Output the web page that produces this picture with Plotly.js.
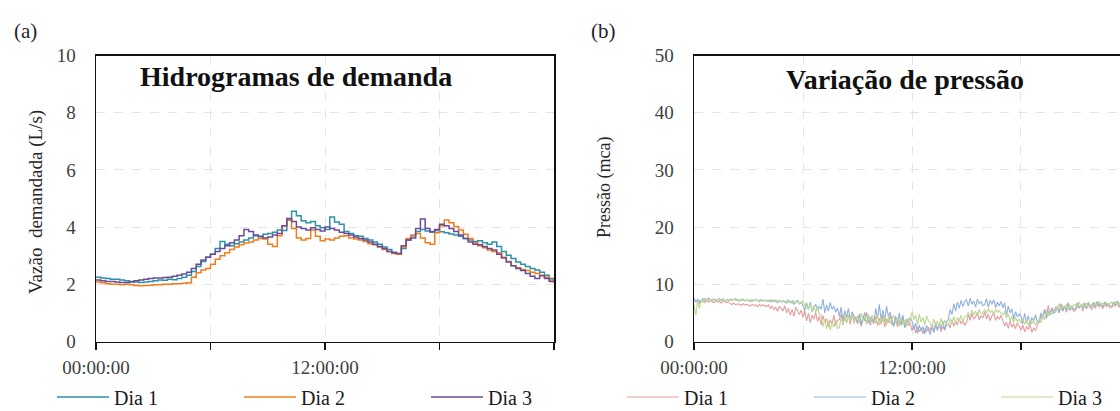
<!DOCTYPE html>
<html>
<head>
<meta charset="utf-8">
<script src="https://cdn.plot.ly/plotly-3.0.1.min.js"></script>
<style>html,body{margin:0;padding:0;background:#fff;}#chart{width:1120px;height:411px;}</style>
</head>
<body>
<div id="chart"></div>
<script>
// ---------- Data: panel (a) demand hydrographs, 15-min steps (L/s) ----------
const stepA = 0.25; // hours between samples
const demandaDia1 = [
  2.25,2.22,2.20,2.18, 2.18,2.15,2.12,2.10, 2.08,2.06,2.08,2.10, 2.12,2.15,2.14,2.18,
  2.16,2.20,2.25,2.32, 2.45,2.62,2.80,2.95, 3.05,3.25,3.50,3.40, 3.35,3.42,3.48,3.55,
  3.62,3.70,3.66,3.75, 3.78,3.82,3.90,3.88, 4.25,4.55,4.40,4.22, 4.15,4.20,4.05,3.98,
  3.92,4.35,4.18,4.10, 3.85,3.78,3.70,3.68, 3.60,3.55,3.48,3.40, 3.30,3.22,3.12,3.05,
  3.25,3.55,3.70,3.85, 3.92,3.86,3.82,3.88, 3.84,3.80,3.76,3.72, 3.68,3.60,3.55,3.50,
  3.52,3.45,3.40,3.48, 3.32,3.15,3.02,2.90, 2.78,2.70,2.62,2.55, 2.50,2.42,2.32,2.20, 2.10];
const demandaDia2 = [
  2.08,2.05,2.02,2.00, 2.00,1.98,2.00,1.98, 1.96,1.95,1.96,1.97, 1.98,1.98,2.00,2.00,
  2.02,2.02,2.04,2.05, 2.25,2.40,2.50,2.55, 2.70,2.88,3.00,3.10, 3.22,3.30,3.38,3.44,
  3.48,3.55,3.60,3.58, 3.40,3.32,3.70,4.05, 4.25,3.95,3.62,3.55, 3.60,3.90,3.68,3.52,
  3.58,3.55,3.62,3.68, 3.70,3.62,3.58,3.55, 3.50,3.42,3.38,3.30, 3.22,3.15,3.08,3.05,
  3.30,3.60,3.72,3.78, 3.62,3.45,3.40,3.80, 4.05,4.25,4.15,4.02, 3.90,3.75,3.60,3.45,
  3.35,3.28,3.20,3.15, 3.10,2.95,2.80,2.65, 2.58,2.52,2.48,2.42, 2.38,2.32,2.25,2.15, 2.10];
const demandaDia3 = [
  2.15,2.12,2.10,2.10, 2.08,2.06,2.06,2.08, 2.12,2.15,2.18,2.20, 2.22,2.22,2.24,2.25,
  2.28,2.32,2.36,2.42, 2.55,2.70,2.85,2.95, 3.05,3.15,3.25,3.35, 3.45,3.55,3.70,3.92,
  3.85,3.72,3.68,3.62, 3.65,3.72,3.78,4.05, 4.30,4.20,4.00,3.95, 3.90,3.98,3.92,3.86,
  4.00,3.95,3.90,3.82, 3.78,3.72,3.65,3.60, 3.55,3.48,3.40,3.32, 3.25,3.15,3.10,3.08,
  3.35,3.55,3.62,3.95, 4.28,3.95,3.85,3.92, 4.10,4.05,3.95,3.85, 3.72,3.60,3.48,3.40,
  3.38,3.32,3.25,3.20, 3.05,2.92,2.78,2.65, 2.55,2.48,2.38,2.28, 2.20,2.30,2.20,2.10, 2.05];

// ---------- Data: panel (b) pressure, 6-min steps (mca) ----------
const stepB = 0.1; // hours between samples
const pressaoDia1 = [
  7.3,6.9,7.1,6.7,7.2,7.0,6.8,7.2,6.9,7.1, 7.0,6.8,7.2,6.9,7.0,6.7,7.1,6.9,6.8,7.0,
  6.6,6.5,6.7,6.4,6.6,6.5,6.3,6.6,6.4,6.5, 6.4,6.2,6.5,6.3,6.4,6.1,6.5,6.2,6.4,6.3,
  6.1,6.4,5.8,6.2,5.6,6.0,5.3,6.1,5.7,5.4, 6.2,5.0,5.8,4.6,5.6,4.4,6.0,5.2,4.7,5.5,
  4.2,5.3,3.6,4.9,3.3,4.6,3.9,5.0,3.5,4.4, 2.9,4.5,3.4,4.0,2.6,3.8,3.1,4.6,2.8,3.7,
  3.8,4.8,2.9,4.2,3.3,4.6,3.0,4.9,3.6,4.3, 3.1,4.4,2.6,3.9,5.1,3.2,4.5,2.8,4.0,3.4,
  4.4,2.8,4.1,3.0,4.7,2.5,3.9,3.3,4.6,3.0, 3.0,4.2,2.6,3.7,2.9,4.3,2.5,3.5,2.8,3.3,
  1.9,2.8,1.5,2.6,1.7,2.4,1.4,2.2,1.8,2.5, 1.8,3.0,1.6,2.8,2.1,3.2,1.7,2.6,2.0,2.9,
  3.1,2.4,3.8,2.7,3.5,2.9,4.0,3.1,3.6,2.8, 3.4,4.6,3.7,4.9,3.9,4.3,5.1,3.8,4.5,4.1,
  5.2,3.9,4.8,3.6,4.5,5.0,3.7,4.4,3.9,4.6, 3.8,2.7,3.4,2.3,3.6,2.5,3.1,2.2,3.3,2.6,
  2.0,2.9,1.7,2.6,2.1,3.0,1.6,2.4,1.9,2.8, 3.4,4.6,3.9,5.6,4.3,6.3,4.8,5.9,5.1,6.0,
  6.1,5.0,6.6,5.4,6.2,5.1,6.8,5.6,6.0,5.3, 5.5,6.8,5.9,6.4,5.3,6.6,5.7,6.9,6.0,5.6,
  6.6,5.8,6.9,6.0,6.5,5.7,6.8,6.1,6.4,5.9, 5.9,6.7,6.2,6.8,6.0,6.6,6.3,6.9,6.1,6.5, 6.5];
const pressaoDia2 = [
  7.6,6.9,7.4,7.0,7.2,7.5,7.1,7.3,7.6,7.2, 7.3,7.4,7.1,7.3,7.5,7.2,7.4,7.1,7.3,7.2,
  7.4,7.2,7.3,7.5,7.1,7.3,7.2,7.4,7.1,7.3, 7.2,7.0,7.3,7.1,7.4,7.2,7.0,7.3,7.1,7.2,
  7.0,7.2,6.9,7.3,7.0,7.1,6.8,7.2,6.9,7.1, 7.0,6.7,7.2,6.8,7.1,6.5,6.9,7.2,6.6,6.9,
  6.3,5.4,6.6,5.6,6.9,5.2,6.0,6.5,5.5,6.2, 5.6,7.4,5.0,6.4,5.3,6.8,5.6,6.2,5.1,5.9,
  4.4,6.0,3.6,5.4,4.2,5.8,3.8,5.2,4.5,4.0, 3.4,4.8,2.9,4.5,3.6,5.1,3.2,4.3,3.8,3.1,
  5.8,4.0,6.5,3.8,5.5,3.5,6.2,4.4,5.1,4.0, 2.6,4.4,3.1,5.0,2.8,4.6,2.4,3.9,3.3,4.2,
  3.6,2.1,3.2,1.4,2.9,1.8,2.6,1.3,2.8,1.9, 1.2,2.8,1.6,3.3,1.9,3.0,2.2,3.6,2.0,3.4,
  3.9,5.6,4.7,6.6,5.3,6.9,5.8,7.2,6.1,7.0, 7.3,6.2,7.6,6.5,7.1,6.0,7.4,6.6,7.0,6.3,
  6.4,7.5,6.0,7.2,6.5,7.3,5.9,6.9,6.2,7.0, 5.9,6.8,4.6,6.2,5.0,5.7,3.9,5.2,4.3,4.8,
  4.4,3.1,4.9,3.3,4.5,3.0,4.2,3.6,4.7,3.4, 3.5,5.0,4.2,5.6,4.0,5.3,4.6,5.8,4.9,5.5,
  5.9,5.0,6.4,5.3,6.1,5.6,6.6,5.4,6.2,5.7, 5.6,6.7,5.8,6.3,6.0,6.8,5.7,6.5,6.1,6.4,
  6.8,6.1,7.0,6.3,6.7,6.0,6.9,6.4,6.6,6.2, 6.2,6.9,6.4,7.1,6.5,6.8,6.3,7.0,6.6,6.7, 6.7];
const pressaoDia3 = [
  6.4,4.6,7.0,5.8,7.3,6.8,7.6,7.1,7.4,7.2, 7.0,7.5,7.2,7.4,7.1,7.3,7.5,7.0,7.4,7.2,
  7.3,7.1,7.4,7.2,7.3,7.0,7.4,7.2,7.1,7.3, 7.1,7.3,7.0,7.2,7.4,7.1,7.2,7.3,7.0,7.2,
  7.2,7.0,7.3,6.9,7.1,7.3,7.0,7.2,6.9,7.1, 6.8,7.2,6.9,7.0,6.7,7.1,6.8,7.0,6.6,6.9,
  7.1,6.2,6.8,5.6,6.5,5.4,6.3,5.0,6.1,4.8, 4.6,2.6,3.9,2.2,3.6,2.0,3.4,2.5,3.8,2.3,
  2.4,4.2,3.0,4.8,3.3,4.5,3.6,4.9,3.1,4.0, 4.5,3.2,5.0,3.6,4.4,3.0,4.8,3.4,4.6,3.8,
  3.3,4.7,2.8,4.1,3.5,4.5,2.9,4.3,3.2,3.9, 4.6,3.2,4.0,2.7,4.3,3.0,3.8,2.6,4.1,3.5,
  5.2,3.8,4.6,3.0,4.8,3.4,4.2,2.9,4.5,3.6, 3.4,2.4,3.9,2.9,3.6,2.5,4.1,2.8,3.7,3.0,
  2.8,4.0,3.3,4.4,3.1,4.2,3.6,4.6,3.4,4.3, 4.5,5.1,4.2,5.5,4.7,5.3,4.4,5.6,4.8,5.0,
  5.6,4.9,5.8,5.0,5.5,4.7,5.7,5.1,5.4,4.9, 4.7,5.3,4.1,4.8,3.6,4.4,3.3,4.2,3.5,3.9,
  3.2,4.0,3.0,3.7,2.8,3.8,3.1,3.6,2.9,3.5, 3.9,3.3,4.6,3.8,5.4,4.5,5.1,4.8,5.6,5.0,
  5.7,6.6,5.5,6.2,5.9,6.5,5.6,6.3,6.0,6.4, 6.4,5.8,6.9,6.1,6.6,5.9,6.7,6.2,6.5,6.0,
  6.0,6.8,6.3,7.0,6.4,6.7,6.1,6.9,6.5,6.6, 6.9,6.2,7.1,6.5,6.8,6.3,7.0,6.6,6.7,6.4, 6.6];

const seriesNames = ['Dia 1', 'Dia 2', 'Dia 3'];
const tickVals = [0, 6, 12, 18, 24];
const tickText = ['00:00:00', '', '12:00:00', '', ''];

// ---------- Build ----------
const tA = demandaDia1.map((_, i) => i * stepA);
const tB = pressaoDia1.map((_, i) => i * stepB);
const colorsA = ['#2b93a7', '#f07c1c', '#6b4b97'];
const colorsB = ['#e59c9c', '#8fb1dc', '#bdd692'];
const serif = 'Liberation Serif, Times New Roman, serif';

const traces = [];
[demandaDia1, demandaDia2, demandaDia3].forEach((ys, k) => {
  traces.push({x: tA, y: ys, type: 'scatter', mode: 'lines', name: seriesNames[k],
    line: {color: colorsA[k], width: 1.5, shape: 'hv'}, xaxis: 'x', yaxis: 'y', legend: 'legend'});
});
[pressaoDia1, pressaoDia2, pressaoDia3].forEach((ys, k) => {
  traces.push({x: tB, y: ys, type: 'scatter', mode: 'lines', name: seriesNames[k],
    line: {color: colorsB[k], width: 1.1}, xaxis: 'x2', yaxis: 'y2', legend: 'legend2'});
});

const yDom = [1 - 341.5 / 411, 1 - 55.5 / 411];
const common = {
  showline: true, linecolor: '#111', linewidth: 1.5, showgrid: true,
  gridcolor: '#e4e4e4', griddash: 'dash', gridwidth: 1, zeroline: false, fixedrange: true
};
const xCommon = Object.assign({}, common, {
  tickvals: tickVals, ticktext: tickText, ticks: 'outside', ticklen: 7, tickwidth: 1.5,
  tickcolor: '#111', tickfont: {size: 19, family: serif, color: '#404040'}, ticklabelstandoff: 1
});
const yCommon = Object.assign({}, common, {
  ticks: '', tickfont: {size: 19, family: serif, color: '#404040'}, ticklabelstandoff: 15
});

const legendCommon = {
  orientation: 'h', xanchor: 'left', yanchor: 'middle', y: 1 - 397 / 411,
  itemwidth: 52, entrywidth: 120, font: {size: 20, family: serif, color: '#1a1a1a'},
  bgcolor: 'rgba(0,0,0,0)', borderwidth: 0, itemclick: false, itemdoubleclick: false
};

const layout = {
  width: 1120, height: 411, margin: {l: 0, r: 0, t: 0, b: 0, autoexpand: false},
  paper_bgcolor: '#ffffff', plot_bgcolor: '#ffffff',
  font: {family: serif, color: '#404040'},
  showlegend: true,
  xaxis: Object.assign({}, xCommon, {domain: [96 / 1120, 554 / 1120], range: [0, 24], anchor: 'y', mirror: true}),
  yaxis: Object.assign({}, yCommon, {domain: yDom, range: [0, 10], tickvals: [0, 2, 4, 6, 8, 10], anchor: 'x', mirror: true}),
  xaxis2: Object.assign({}, xCommon, {domain: [694 / 1120, 1], range: [0, 23.45], anchor: 'y2', mirror: true}),
  yaxis2: Object.assign({}, yCommon, {domain: yDom, range: [0, 50], tickvals: [0, 10, 20, 30, 40, 50], anchor: 'x2', mirror: false}),
  legend: Object.assign({}, legendCommon, {x: 52 / 1120}),
  legend2: Object.assign({}, legendCommon, {x: 622 / 1120}),
  annotations: [
    {text: '(a)', xref: 'paper', yref: 'paper', x: 25 / 1120, y: 1 - 31 / 411, showarrow: false,
     xanchor: 'center', yanchor: 'middle', font: {size: 21, family: serif, color: '#1f1f2e'}},
    {text: '(b)', xref: 'paper', yref: 'paper', x: 603 / 1120, y: 1 - 31 / 411, showarrow: false,
     xanchor: 'center', yanchor: 'middle', font: {size: 21, family: serif, color: '#1f1f2e'}},
    {text: '<b>Hidrogramas de demanda</b>', xref: 'paper', yref: 'paper', x: 296 / 1120, y: 1 - 76 / 411,
     showarrow: false, xanchor: 'center', yanchor: 'middle', font: {size: 28, family: serif, color: '#111'}},
    {text: '<b>Variação de pressão</b>', xref: 'paper', yref: 'paper', x: 905 / 1120, y: 1 - 79 / 411,
     showarrow: false, xanchor: 'center', yanchor: 'middle', font: {size: 28, family: serif, color: '#111'}},
    {text: 'Vazão\u00a0 demandada (L/s)', xref: 'paper', yref: 'paper', x: 36 / 1120, y: 1 - 202 / 411,
     showarrow: false, textangle: -90, xanchor: 'center', yanchor: 'middle', font: {size: 19, family: serif, color: '#262626'}},
    {text: 'Pressão (mca)', xref: 'paper', yref: 'paper', x: 604 / 1120, y: 1 - 188 / 411,
     showarrow: false, textangle: -90, xanchor: 'center', yanchor: 'middle', font: {size: 18, family: serif, color: '#262626'}}
  ]
};

Plotly.newPlot('chart', traces, layout, {staticPlot: true, displayModeBar: false});
</script>
</body>
</html>
